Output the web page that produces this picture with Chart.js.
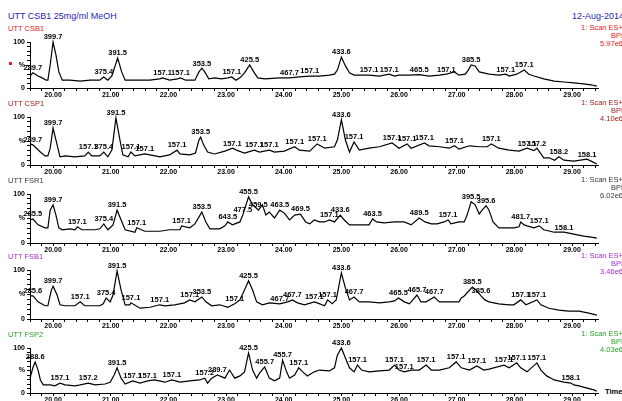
<!DOCTYPE html>
<html>
<head>
<meta charset="utf-8">
<script src="https://cdn.jsdelivr.net/npm/chart.js@4.4.1/dist/chart.umd.min.js"></script>
<style>
  html, body { margin: 0; padding: 0; background: #fff; }
  body { width: 622px; height: 401px; overflow: hidden; position: relative;
         font-family: "Liberation Sans", Arial, sans-serif; }
  canvas { position: absolute; left: 0; }
  .txt { position: absolute; white-space: nowrap; line-height: 1; }
  .side { position: absolute; right: -1px; text-align: right; font-size: 7.5px;
          line-height: 8px; white-space: nowrap; }
</style>
</head>
<body>
<div class="txt" style="left:8px;top:12px;font-size:9px;color:#2828b0">UTT CSB1 25mg/ml MeOH</div>
<div class="txt" style="left:572px;top:12px;font-size:9px;color:#2828b0">12-Aug-2014</div>
<div class="txt" style="left:605px;top:388px;font-size:7.5px;font-weight:bold;color:#000">Time</div>
<div style="position:absolute;left:9px;top:62px;width:3px;height:3px;background:#e02020"></div>

<script>
// sample names, detector scale, colours
const sampleNames = ["UTT CSB1", "UTT CSP1", "UTT FSR1", "UTT FSB1", "UTT FSP2"];
const sampleScale = ["5.97e6", "4.10e6", "6.02e6", "3.46e6", "4.03e6"];
const sampleColors = ["#e02020", "#a01c1c", "#34343e", "#a030c8", "#28a028"];

// time axis labels (min)
const timeLabels = [20, 21, 22, 23, 24, 25, 26, 27, 28, 29];

// BPI traces: [time, %]
const csb1Trace = [
  [19.60, 26], [19.65, 33], [19.74, 26], [19.81, 22], [19.88, 17], [19.91, 17], [19.95, 50],
  [20.00, 100], [20.05, 72], [20.10, 35], [20.16, 17], [20.29, 17], [20.47, 15], [20.64, 17],
  [20.81, 17], [20.88, 24], [20.95, 17], [21.02, 26], [21.12, 65], [21.19, 35], [21.25, 17],
  [21.51, 17], [21.68, 17], [21.85, 20], [21.90, 22], [22.02, 17], [22.16, 20], [22.21, 22],
  [22.30, 17], [22.46, 17], [22.53, 35], [22.58, 43], [22.63, 35], [22.70, 20], [22.80, 22],
  [22.92, 20], [23.03, 22], [23.10, 24], [23.17, 17], [23.24, 22], [23.32, 33], [23.41, 50],
  [23.48, 35], [23.55, 22], [23.67, 20], [23.93, 22], [24.10, 22], [24.27, 24], [24.45, 26],
  [24.62, 26], [24.79, 28], [24.88, 30], [24.93, 39], [25.00, 67], [25.07, 48], [25.14, 33],
  [25.22, 28], [25.48, 28], [25.66, 26], [25.83, 30], [25.92, 26], [26.00, 28], [26.18, 28],
  [26.35, 29], [26.52, 26], [26.70, 28], [26.82, 30], [26.96, 35], [27.04, 28], [27.15, 30],
  [27.20, 39], [27.25, 50], [27.32, 48], [27.39, 35], [27.56, 30], [27.73, 28], [27.85, 30],
  [27.91, 26], [28.04, 30], [28.17, 39], [28.25, 30], [28.34, 26], [28.51, 20], [28.69, 15],
  [28.86, 13], [29.03, 11], [29.20, 9], [29.33, 7], [29.43, 4]
];
const csp1Trace = [
  [19.60, 44], [19.65, 42], [19.78, 27], [19.86, 19], [19.91, 19], [19.95, 35], [20.00, 77],
  [20.07, 42], [20.12, 17], [20.21, 19], [20.38, 17], [20.55, 19], [20.61, 27], [20.67, 19],
  [20.81, 19], [20.88, 27], [20.95, 17], [21.02, 31], [21.09, 98], [21.16, 52], [21.21, 21],
  [21.30, 17], [21.35, 27], [21.42, 19], [21.59, 23], [21.68, 21], [21.85, 17], [22.02, 21],
  [22.15, 31], [22.20, 23], [22.37, 21], [22.47, 25], [22.53, 52], [22.56, 58], [22.61, 42],
  [22.68, 27], [22.80, 23], [22.98, 29], [23.11, 35], [23.18, 31], [23.32, 25], [23.49, 31],
  [23.58, 27], [23.75, 31], [23.84, 27], [24.01, 29], [24.19, 38], [24.27, 31], [24.45, 29],
  [24.58, 44], [24.71, 35], [24.88, 38], [24.93, 52], [25.00, 94], [25.07, 52], [25.14, 27],
  [25.22, 48], [25.31, 31], [25.48, 35], [25.66, 38], [25.88, 46], [26.00, 35], [26.14, 44],
  [26.21, 35], [26.44, 46], [26.52, 40], [26.70, 38], [26.87, 35], [26.96, 40], [27.04, 33],
  [27.22, 40], [27.39, 38], [27.53, 38], [27.60, 44], [27.73, 35], [27.91, 31], [28.08, 29],
  [28.22, 35], [28.34, 30], [28.39, 35], [28.46, 23], [28.51, 15], [28.60, 15], [28.70, 10],
  [28.77, 17], [28.86, 10], [29.03, 8], [29.26, 12], [29.33, 8], [29.43, 2]
];
const fsr1Trace = [
  [19.60, 47], [19.65, 49], [19.74, 37], [19.86, 31], [19.91, 31], [19.95, 67], [20.00, 78],
  [20.05, 57], [20.10, 31], [20.16, 27], [20.29, 29], [20.38, 27], [20.42, 33], [20.50, 27],
  [20.73, 27], [20.81, 29], [20.88, 39], [20.95, 27], [21.04, 37], [21.11, 67], [21.18, 47],
  [21.25, 27], [21.42, 22], [21.45, 31], [21.59, 24], [21.85, 24], [22.02, 27], [22.20, 27],
  [22.23, 35], [22.37, 31], [22.46, 39], [22.58, 63], [22.65, 43], [22.72, 29], [22.89, 29],
  [22.98, 35], [23.03, 43], [23.11, 37], [23.24, 43], [23.29, 57], [23.39, 94], [23.46, 78],
  [23.51, 73], [23.56, 67], [23.63, 78], [23.69, 57], [23.75, 63], [23.84, 51], [23.93, 67],
  [24.01, 61], [24.10, 47], [24.19, 57], [24.29, 59], [24.38, 43], [24.45, 39], [24.53, 47],
  [24.62, 43], [24.71, 43], [24.79, 47], [24.88, 43], [24.98, 57], [25.05, 47], [25.14, 37],
  [25.31, 37], [25.48, 37], [25.54, 49], [25.61, 43], [25.74, 41], [25.92, 43], [26.09, 43],
  [26.21, 37], [26.35, 51], [26.45, 43], [26.56, 39], [26.66, 39], [26.78, 43], [26.85, 47],
  [26.90, 39], [27.04, 43], [27.13, 43], [27.18, 57], [27.25, 84], [27.32, 78], [27.39, 59],
  [27.44, 67], [27.51, 76], [27.56, 67], [27.63, 43], [27.73, 31], [27.87, 31], [27.99, 31],
  [28.08, 33], [28.11, 43], [28.17, 37], [28.22, 35], [28.34, 31], [28.43, 35], [28.51, 27],
  [28.69, 22], [28.86, 22], [29.03, 18], [29.20, 14], [29.33, 12], [29.43, 10]
];
const fsb1Trace = [
  [19.60, 47], [19.65, 47], [19.74, 35], [19.86, 27], [19.91, 27], [19.97, 59], [20.00, 67],
  [20.07, 49], [20.12, 29], [20.21, 27], [20.38, 27], [20.47, 35], [20.55, 27], [20.81, 27],
  [20.87, 31], [20.92, 43], [20.99, 35], [21.04, 49], [21.11, 98], [21.18, 59], [21.25, 29],
  [21.33, 29], [21.35, 33], [21.51, 22], [21.68, 24], [21.85, 29], [21.94, 27], [22.11, 29],
  [22.28, 33], [22.37, 39], [22.46, 35], [22.58, 45], [22.65, 35], [22.75, 27], [22.89, 29],
  [23.03, 24], [23.15, 31], [23.24, 39], [23.32, 59], [23.39, 78], [23.46, 59], [23.53, 35],
  [23.63, 29], [23.75, 33], [23.93, 31], [24.07, 35], [24.15, 39], [24.24, 33], [24.36, 29],
  [24.53, 35], [24.58, 33], [24.71, 27], [24.76, 39], [24.84, 31], [24.91, 39], [25.00, 94],
  [25.07, 63], [25.14, 39], [25.22, 45], [25.31, 35], [25.48, 35], [25.66, 33], [25.83, 35],
  [25.92, 37], [25.99, 43], [26.09, 35], [26.18, 31], [26.31, 49], [26.38, 35], [26.47, 35],
  [26.61, 45], [26.70, 35], [26.87, 35], [27.04, 35], [27.08, 43], [27.13, 47], [27.27, 65],
  [27.34, 59], [27.42, 47], [27.49, 39], [27.56, 35], [27.73, 31], [27.91, 29], [27.99, 29],
  [28.11, 39], [28.20, 29], [28.39, 39], [28.46, 29], [28.60, 22], [28.77, 18], [28.94, 16],
  [29.12, 16], [29.29, 12], [29.43, 8]
];
const fsp2Trace = [
  [19.60, 33], [19.65, 56], [19.69, 69], [19.74, 51], [19.78, 29], [19.83, 18], [19.95, 18],
  [20.03, 16], [20.12, 22], [20.21, 18], [20.38, 16], [20.47, 18], [20.61, 22], [20.73, 18],
  [20.90, 20], [20.99, 24], [21.06, 40], [21.11, 56], [21.18, 33], [21.25, 20], [21.38, 27],
  [21.51, 22], [21.64, 27], [21.76, 29], [21.94, 24], [22.06, 29], [22.20, 24], [22.37, 27],
  [22.54, 29], [22.63, 33], [22.68, 22], [22.75, 33], [22.85, 40], [22.98, 33], [23.06, 51],
  [23.15, 33], [23.24, 38], [23.32, 47], [23.39, 89], [23.46, 51], [23.53, 33], [23.58, 44],
  [23.67, 58], [23.75, 33], [23.84, 27], [23.93, 33], [23.98, 73], [24.05, 47], [24.10, 33],
  [24.19, 40], [24.26, 56], [24.33, 47], [24.41, 38], [24.53, 47], [24.62, 51], [24.79, 49],
  [24.88, 56], [24.93, 84], [25.00, 100], [25.07, 78], [25.14, 56], [25.22, 47], [25.28, 62],
  [25.35, 51], [25.48, 47], [25.66, 49], [25.83, 51], [25.92, 62], [26.00, 51], [26.09, 47],
  [26.21, 51], [26.35, 51], [26.47, 62], [26.56, 51], [26.70, 51], [26.87, 56], [26.99, 69],
  [27.08, 56], [27.22, 51], [27.35, 60], [27.47, 51], [27.56, 53], [27.82, 62], [27.91, 56],
  [28.04, 67], [28.11, 56], [28.22, 47], [28.39, 67], [28.46, 51], [28.56, 38], [28.69, 29],
  [28.86, 24], [28.98, 22], [29.03, 18], [29.12, 16], [29.26, 11], [29.38, 7], [29.43, 4]
];

// peak labels: [time, m/z]
const csb1Peaks = [
  [19.65, "289.7"], [20.00, "399.7"], [20.88, "375.4"], [21.12, "391.5"], [21.90, "157.1"],
  [22.21, "157.1"], [22.58, "353.5"], [23.10, "157.1"], [23.41, "425.5"], [24.10, "467.7"],
  [24.45, "157.1"], [25.00, "433.6"], [25.48, "157.1"], [25.83, "157.1"], [26.35, "465.5"],
  [26.82, "157.1"], [27.25, "385.5"], [27.85, "157.1"], [28.17, "157.1"]
];
const csp1Peaks = [
  [19.65, "289.7"], [20.00, "399.7"], [20.61, "157.1"], [20.88, "375.4"], [21.09, "391.5"],
  [21.35, "157.1"], [21.59, "157.1"], [22.15, "157.1"], [22.56, "353.5"], [23.11, "157.1"],
  [23.49, "157.1"], [23.75, "157.1"], [24.19, "157.1"], [24.58, "157.1"], [25.00, "433.6"],
  [25.22, "157.1"], [25.88, "157.1"], [26.14, "157.1"], [26.44, "157.1"], [26.96, "157.1"],
  [27.60, "157.1"], [28.22, "157.1"], [28.39, "157.2"], [28.77, "158.2"], [29.26, "158.1"]
];
const fsr1Peaks = [
  [19.65, "285.5"], [20.00, "399.7"], [20.42, "157.1"], [20.88, "375.4"], [21.11, "391.5"],
  [21.45, "157.1"], [22.23, "157.1"], [22.58, "353.5"], [23.03, "643.5"], [23.29, "477.5"],
  [23.39, "455.5"], [23.56, "459.5"], [23.93, "463.5"], [24.29, "469.5"], [24.79, "157.1"],
  [24.98, "433.6"], [25.54, "463.5"], [26.35, "489.5"], [26.85, "157.1"], [27.25, "395.5"],
  [27.51, "395.6"], [28.11, "481.7"], [28.43, "157.1"], [28.86, "158.1"]
];
const fsb1Peaks = [
  [19.65, "285.6"], [20.00, "399.7"], [20.47, "157.1"], [20.92, "375.4"], [21.11, "391.5"],
  [21.35, "157.1"], [21.85, "157.1"], [22.37, "157.1"], [22.58, "353.5"], [23.15, "157.1"],
  [23.39, "425.5"], [23.93, "467.7"], [24.15, "467.7"], [24.53, "157.1"], [24.76, "157.1"],
  [25.00, "433.6"], [25.22, "467.7"], [25.99, "465.5"], [26.31, "465.7"], [26.61, "467.7"],
  [27.27, "385.5"], [27.42, "385.6"], [28.11, "157.1"], [28.39, "157.1"]
];
const fsp2Peaks = [
  [19.69, "288.6"], [20.12, "157.1"], [20.61, "157.2"], [21.11, "391.5"], [21.38, "157.1"],
  [21.64, "157.1"], [22.06, "157.1"], [22.63, "157.2"], [22.85, "289.7"], [23.39, "425.5"],
  [23.67, "455.7"], [23.98, "455.7"], [24.26, "157.1"], [25.00, "433.6"], [25.28, "157.1"],
  [25.92, "157.1"], [26.09, "157.1"], [26.47, "157.1"], [26.99, "157.1"], [27.35, "157.1"],
  [27.82, "157.1"], [28.04, "157.1"], [28.39, "157.1"], [28.98, "158.1"]
];

const traces = [csb1Trace, csp1Trace, fsr1Trace, fsb1Trace, fsp2Trace];
const peaks = [csb1Peaks, csp1Peaks, fsr1Peaks, fsb1Peaks, fsp2Peaks];

// page layout of each panel (pixel rows of 100% and 0%)
const plotTop = [42, 117, 194, 270, 348];
const plotBase = [88, 165, 243, 319, 393];

const FONT = '"Liberation Sans", Arial, sans-serif';

// minor ticks every 0.2 min, labels on whole minutes
const xTicks = [];
for (let i = 0; 19.6 + i * 0.2 < 29.45; i++) xTicks.push(+(19.6 + i * 0.2).toFixed(1));
const yTicks = [0, 10, 20, 30, 40, 50, 60, 70, 80, 90, 100];

const peakLabels = {
  id: "peakLabels",
  afterDatasetsDraw(chart, args, opts) {
    const ctx = chart.ctx;
    const xs = chart.scales.x, ys = chart.scales.y;
    const pts = chart.data.datasets[0].data;
    ctx.save();
    ctx.font = "bold 7.5px " + FONT;
    ctx.fillStyle = "#000";
    ctx.textAlign = "center";
    ctx.textBaseline = "bottom";
    opts.list.forEach(([t, txt]) => {
      let best = pts[0];
      pts.forEach(p => { if (Math.abs(p.x - t) < Math.abs(best.x - t)) best = p; });
      ctx.fillText(txt, xs.getPixelForValue(best.x), ys.getPixelForValue(best.y) - 1);
    });
    ctx.restore();
  }
};

function addText(cls, style, html) {
  const d = document.createElement("div");
  d.className = cls;
  d.setAttribute("style", style);
  d.innerHTML = html;
  document.body.appendChild(d);
}

traces.forEach((trace, i) => {
  const color = sampleColors[i];
  addText("txt", `left:8px;top:${plotTop[i] - 17}px;font-size:7.5px;color:${color}`, sampleNames[i]);
  addText("side", `top:${plotTop[i] - 18}px;color:${color}`,
    `1: Scan ES+<br>BPI<br>${sampleScale[i]}`);

  const cv = document.createElement("canvas");
  const h = plotBase[i] - plotTop[i] + 24;
  cv.width = 622;
  cv.height = h;
  cv.style.top = (plotTop[i] - 10) + "px";
  document.body.appendChild(cv);

  new Chart(cv.getContext("2d"), {
    type: "line",
    data: {
      datasets: [{
        data: trace.map(([t, v]) => ({ x: t, y: v })),
        borderColor: "#000",
        borderWidth: 1.2,
        pointRadius: 0,
        tension: 0,
        fill: false,
        clip: false
      }]
    },
    options: {
      responsive: false,
      animation: false,
      events: [],
      layout: { padding: { top: 10, right: 24, left: 0, bottom: 0 } },
      plugins: {
        legend: { display: false },
        tooltip: { enabled: false },
        peakLabels: { list: peaks[i] }
      },
      scales: {
        x: {
          type: "linear",
          min: 19.6,
          max: 29.45,
          afterFit: s => { s.height = 14; },
          afterBuildTicks: s => { s.ticks = xTicks.map(v => ({ value: v })); },
          ticks: {
            autoSkip: false,
            maxRotation: 0,
            padding: 0,
            color: "#000",
            font: { family: FONT, size: 7, weight: "bold" },
            callback: v => timeLabels.some(m => Math.abs(m - v) < 1e-6) ? v.toFixed(2) : ""
          },
          grid: { drawOnChartArea: false, tickLength: 3, color: "#000" },
          border: { color: "#000", width: 1 }
        },
        y: {
          min: 0,
          max: 100,
          afterFit: s => { s.width = 30; },
          afterBuildTicks: s => { s.ticks = yTicks.map(v => ({ value: v })); },
          ticks: {
            autoSkip: false,
            padding: 2,
            color: "#000",
            font: { family: FONT, size: 7, weight: "bold" },
            callback: v => v === 100 ? "100" : v === 50 ? "%" : v === 0 ? "0" : ""
          },
          grid: { drawOnChartArea: false, tickLength: 3, color: "#000" },
          border: { color: "#000", width: 1 }
        }
      }
    },
    plugins: [peakLabels]
  });
});
</script>
</body>
</html>
